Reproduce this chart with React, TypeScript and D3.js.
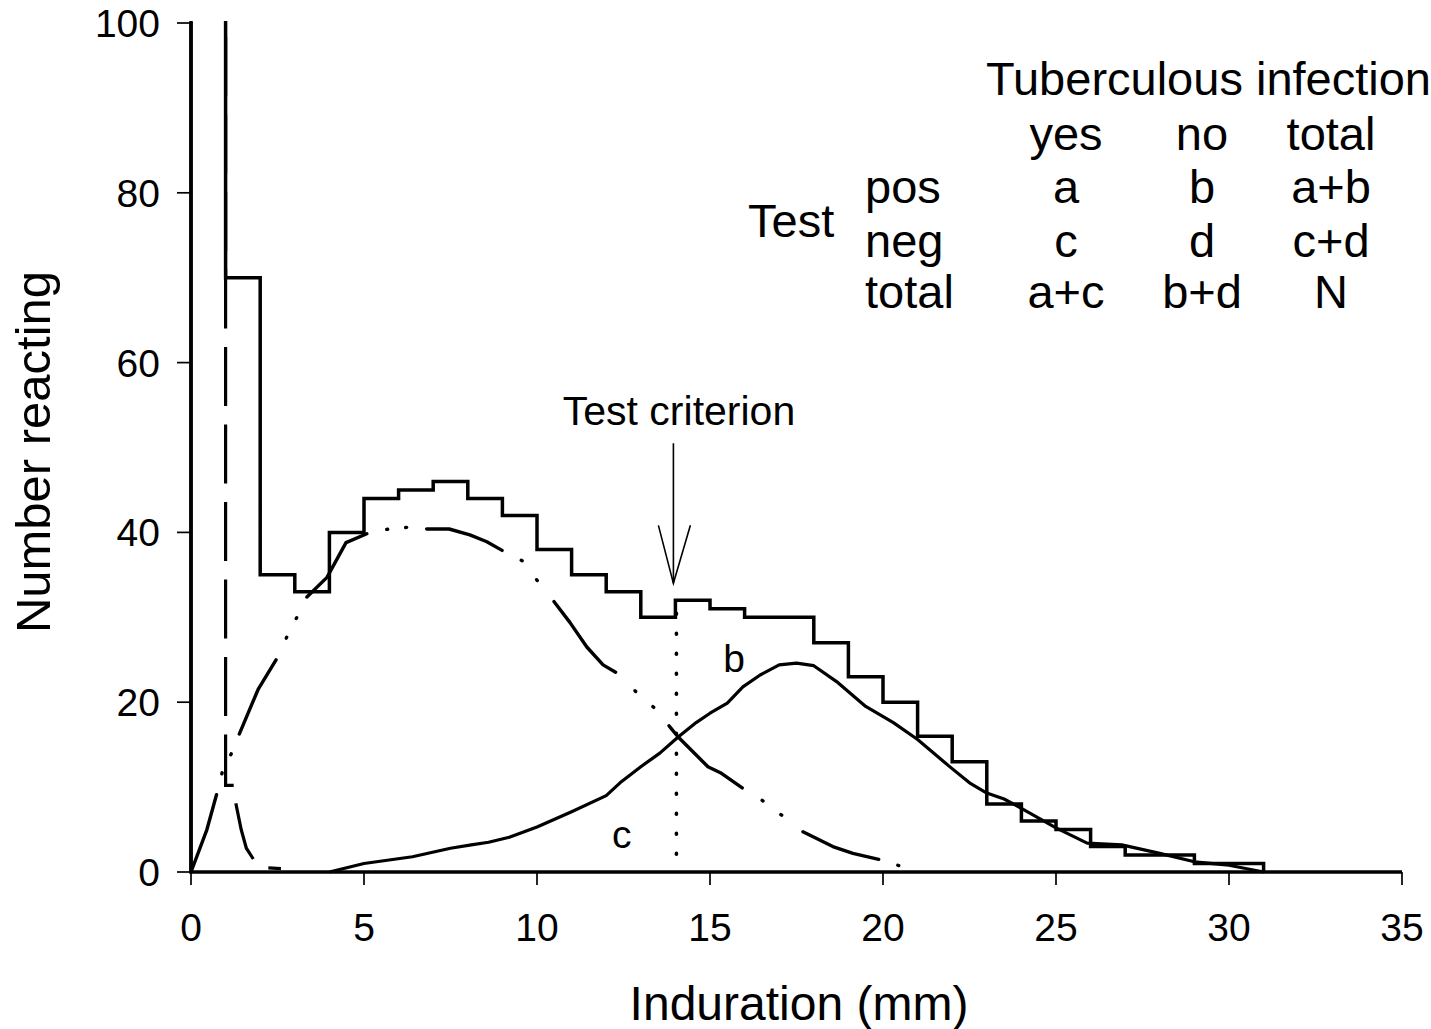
import React, { useEffect } from "react";
import * as d3 from "d3";

// ---------- data ----------
const xTicks = [0, 5, 10, 15, 20, 25, 30, 35];
const yTicks = [0, 20, 40, 60, 80, 100];

// histogram of all reactors, 1 mm bins starting at 0 (first bin exceeds the axis)
const histStart = 0;
const histCounts = [130, 70, 35, 33, 40, 44, 45, 46, 44, 42, 38, 35, 33, 30, 32, 31, 30, 30, 27, 23, 20, 16, 13, 8, 6, 5, 3, 2, 2, 1, 1];

// curve for reactors with tuberculous infection (solid)
const infectedX = [4, 5, 6.4, 7.5, 8.1, 8.6, 9.2, 10, 11, 12, 12.4, 13, 13.55, 14.08, 14.6, 15, 15.5, 15.95, 16.45, 17, 17.5, 18, 18.7, 19.5, 20.3, 21, 21.9, 22.5, 23, 23.5, 24, 25, 25.9, 26.9, 28, 29, 30, 31];
const infectedY = [0, 1.0, 1.8, 2.8, 3.2, 3.5, 4.1, 5.3, 7.1, 9.0, 10.5, 12.4, 14, 15.9, 17.6, 18.7, 19.9, 21.8, 23.2, 24.4, 24.6, 24.3, 22.3, 19.5, 17.6, 15.6, 12.5, 10.5, 9.3, 8.6, 7.5, 5.2, 3.4, 3.2, 2.2, 1.2, 0.8, 0];

// curve for cross-reactors without tuberculous infection (dash-dot-dot)
const nonInfX = [0, 0.46, 0.75, 0.9, 1.16, 1.39, 1.94, 2.49, 2.77, 3.06, 3.35, 3.93, 4.48, 5.17, 5.72, 6.27, 6.82, 7.46, 8.06, 8.55, 9.07, 9.6, 10.03, 10.5, 10.95, 11.44, 11.91, 12.37, 12.89, 13.4, 13.84, 14.08, 14.94, 15.3, 16.0, 16.56, 17.1, 17.7, 18.55, 19.13, 19.97, 20.5];
const nonInfY = [0, 5, 9.3, 11.7, 13.9, 16.2, 21.5, 25.2, 27.7, 30, 32.4, 34.7, 38.8, 40, 40.4, 40.6, 40.4, 40.4, 39.7, 38.9, 37.7, 36.6, 34.2, 31.8, 29.4, 26.5, 24.4, 23.3, 21.1, 19.3, 17.1, 15.9, 12.4, 11.7, 9.7, 8.3, 6.6, 4.7, 3.0, 2.2, 1.4, 0.7];

// spike of non-specific small reactions (long dashes)
const spikeX = [1, 1, 1.25, 1.3, 1.45, 1.6, 1.9, 2.2, 2.6];
const spikeY = [100, 10.2, 10.2, 8, 5, 2.8, 0.9, 0.5, 0.4];

const criterion = 14;
const criterionTop = 30;
const arrowTipValue = 34;
const arrowTopValue = 50.5;

const curveLabels = [
  { text: "b", x: 15.7, y: 23.6 },
  { text: "c", x: 12.45, y: 2.8 },
];

const tableTitle = "Tuberculous infection";
const tableColumns = ["yes", "no", "total"];
const tableRowLabel = "Test";
const tableRows = ["pos", "neg", "total"];
const tableCells = [
  ["a", "b", "a+b"],
  ["c", "d", "c+d"],
  ["a+c", "b+d", "N"],
];

const xTitle = "Induration (mm)";
const yTitle = "Number reacting";

// ---------- layout ----------
const W = 1431;
const H = 1029;
const FONT = "'Liberation Sans', Arial, Helvetica, sans-serif";

const x = d3.scaleLinear().domain([0, 35]).range([191, 1402]);
const y = d3.scaleLinear().domain([0, 100]).range([872, 23]);

const line = d3
  .line<[number, number]>()
  .x((d) => x(d[0]))
  .y((d) => y(d[1]))
  .curve(d3.curveLinear);

const histPoints: [number, number][] = [[histStart, 0]];
histCounts.forEach((c, i) => {
  histPoints.push([histStart + i, c]);
  histPoints.push([histStart + i + 1, c]);
});
histPoints.push([histStart + histCounts.length, 0]);

const zip = (a: number[], b: number[]) => a.map((v, i) => [v, b[i]] as [number, number]);

// dash-dot-dot rhythm of the non-infected curve (dots are 1px dashes with round caps)
const D = 1;
const ddd = [81.5, 21.6, D, 20, D, 21.4, 83, 24, D, 21, D, 23, 90.4, 20.4, D, 18.1, D, 20.1, 79.8, 21.6, D, 24, D, 27, 94.6, 27, D, 23, D, 24, 97, 23.5, D, 22.5, D, 27, 81, 20, D, 200];

export default function App() {
  useEffect(() => {
    document.body.style.margin = "0";
  }, []);

  const colX = [1066, 1202, 1331];
  const rowY = [203, 257, 308];
  const TF = 47;

  return (
    <svg width={W} height={H} style={{ display: "block", background: "#fff" }} fontFamily={FONT}>
      <defs>
        <clipPath id="plotClip">
          <rect x={0} y={y(100) - 2} width={W} height={H} />
        </clipPath>
      </defs>

      {/* axes */}
      <line x1={x(0)} x2={x(0)} y1={y(0) + 1.5} y2={y(100) - 1} stroke="#000" strokeWidth={3.5} />
      <line x1={x(0) - 1.5} x2={x(35)} y1={y(0)} y2={y(0)} stroke="#000" strokeWidth={3.5} />
      {yTicks.map((t) => (
        <g key={"y" + t}>
          <line x1={x(0) - 14} x2={x(0)} y1={y(t)} y2={y(t)} stroke="#000" strokeWidth={1.7} />
          <text x={160} y={y(t)} dy="0.36em" textAnchor="end" fontSize={39}>
            {t}
          </text>
        </g>
      ))}
      {xTicks.map((t) => (
        <g key={"x" + t}>
          <line x1={x(t)} x2={x(t)} y1={y(0)} y2={y(0) + 13} stroke="#000" strokeWidth={1.7} />
          <text x={x(t)} y={941} textAnchor="middle" fontSize={39}>
            {t}
          </text>
        </g>
      ))}

      {/* histogram */}
      <path
        d={line(histPoints) || ""}
        fill="none"
        stroke="#000"
        strokeWidth={3.5}
        strokeLinejoin="miter"
        clipPath="url(#plotClip)"
      />

      {/* spike curve, long dashes */}
      <path
        d={line(zip(spikeX, spikeY)) || ""}
        fill="none"
        stroke="#000"
        strokeWidth={3.2}
        strokeDasharray="59 18.5"
        strokeDashoffset={63.5}
      />

      {/* non-infected curve, dash-dot-dot */}
      <path
        d={line(zip(nonInfX, nonInfY)) || ""}
        fill="none"
        stroke="#000"
        strokeWidth={3.4}
        strokeLinecap="round"
        strokeLinejoin="round"
        strokeDasharray={ddd.join(" ")}
      />

      {/* infected curve, solid */}
      <path
        d={line(zip(infectedX, infectedY)) || ""}
        fill="none"
        stroke="#000"
        strokeWidth={3.2}
        strokeLinejoin="round"
      />

      {/* criterion dotted line */}
      <line
        x1={x(criterion) + 1}
        x2={x(criterion) + 1}
        y1={y(criterionTop) - 4}
        y2={y(0)}
        stroke="#000"
        strokeWidth={3.6}
        strokeLinecap="round"
        strokeDasharray="1 19"
      />

      {/* arrow */}
      <line x1={x(criterion) - 2} x2={x(criterion) - 2} y1={y(arrowTopValue)} y2={y(arrowTipValue)} stroke="#000" strokeWidth={1.6} />
      <path
        d={`M${x(criterion) - 17},${y(arrowTipValue) - 58} L${x(criterion) - 2},${y(arrowTipValue)} L${x(criterion) + 15},${y(arrowTipValue) - 58}`}
        fill="none"
        stroke="#000"
        strokeWidth={1.6}
      />
      <text x={679} y={425} textAnchor="middle" fontSize={41}>
        Test criterion
      </text>

      {curveLabels.map((l) => (
        <text key={l.text} x={x(l.x)} y={y(l.y)} textAnchor="middle" fontSize={39}>
          {l.text}
        </text>
      ))}

      {/* 2x2 table */}
      <text x={986} y={95} fontSize={TF}>
        {tableTitle}
      </text>
      {tableColumns.map((c, i) => (
        <text key={c} x={colX[i]} y={150} textAnchor="middle" fontSize={TF}>
          {c}
        </text>
      ))}
      <text x={748} y={237} fontSize={TF}>
        {tableRowLabel}
      </text>
      {tableRows.map((r, i) => (
        <text key={r + i} x={865} y={rowY[i]} fontSize={TF}>
          {r}
        </text>
      ))}
      {tableCells.map((row, i) =>
        row.map((cell, j) => (
          <text key={i + "-" + j} x={colX[j]} y={rowY[i]} textAnchor="middle" fontSize={TF}>
            {cell}
          </text>
        ))
      )}

      {/* axis titles */}
      <text x={799} y={1020} textAnchor="middle" fontSize={48}>
        {xTitle}
      </text>
      <text transform={`translate(50,452) rotate(-90)`} textAnchor="middle" fontSize={49}>
        {yTitle}
      </text>
    </svg>
  );
}
